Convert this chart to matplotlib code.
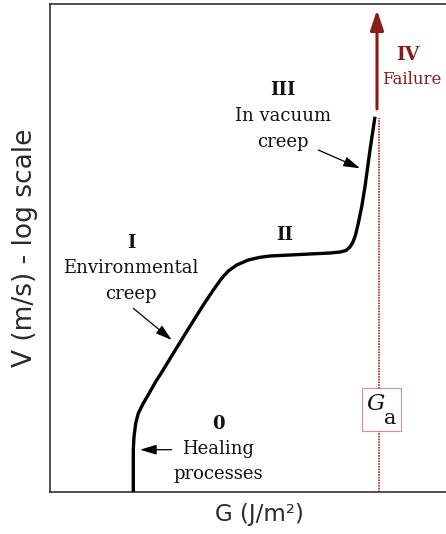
import matplotlib
matplotlib.use("Agg")
import matplotlib.pyplot as plt
from matplotlib.patches import Rectangle, FancyArrowPatch

# Crack growth curve: energy release rate G vs crack velocity V (log scale, arbitrary units)
G_curve = [83.3, 83.3, 84.0, 85.7, 88.3, 93.3, 100.0, 106.7, 111.0, 123.3, 136.7,
           153.3, 163.3, 171.7, 178.3, 186.7, 198.3, 210.0, 220.0, 250.0, 280.0,
           290.0, 296.0, 300.0, 303.0, 305.5, 308.3, 311.7, 315.0, 320.0, 325.0]
logV_curve = [0.0, 42.0, 55.3, 68.7, 78.7, 88.7, 100.3, 112.0, 118.5, 138.7, 160.5,
              187.0, 202.0, 213.7, 221.0, 227.0, 232.0, 234.7, 236.0, 237.5, 239.0,
              240.0, 241.5, 245.0, 250.0, 257.0, 268.7, 285.3, 305.3, 342.0, 375.3]

# Threshold G_a and the failure arrow
G_a = 328.5
logV_ga_top = 374.0
failure_x = 327.0
failure_start, failure_end = 383.0, 482.0

region_titles = ["0", "I", "II", "III", "IV"]
region_names = [["Healing", "processes"], ["Environmental", "creep"], [],
                ["In vacuum", "creep"], ["Failure"]]

W, H = 446, 534
fig = plt.figure(figsize=(W / 100, H / 100), dpi=100)
left_px, right_px, top_px, bottom_px = 50, 460, 4, 492
ax = fig.add_axes([left_px / W, 1 - bottom_px / H,
                   (right_px - left_px) / W, (bottom_px - top_px) / H])
ax.set_xlim(0, right_px - left_px)
ax.set_ylim(0, bottom_px - top_px)
ax.set_xticks([])
ax.set_yticks([])
for side in ("left", "bottom", "top"):
    ax.spines[side].set_color("#333333")
    ax.spines[side].set_linewidth(1.2)
ax.spines["right"].set_visible(False)

serif = "DejaVu Serif"
dark_red = "#8b1a1a"
line_red = "#c0392b"
ink = "#111111"
fs = 13

# main curve
ax.plot(G_curve, logV_curve, color="black", lw=2.4, solid_joinstyle="round",
        solid_capstyle="butt", zorder=3)

# G_a dotted line
ax.plot([G_a, G_a], [0, logV_ga_top], color=line_red, lw=1.4,
        linestyle=(0, (0.8, 0.6)), zorder=2)

# failure arrow
ax.add_patch(FancyArrowPatch((failure_x, failure_start), (failure_x, failure_end),
                             arrowstyle="-|>,head_length=12,head_width=4",
                             color=dark_red, lw=2.2, mutation_scale=1,
                             shrinkA=0, shrinkB=0, zorder=4))

# G_a label box
ax.add_patch(Rectangle((312, 61), 39, 43, facecolor="white", edgecolor=line_red,
                       lw=0.8, linestyle=(0, (1, 0.8)), zorder=4))
ax.text(326, 88, "G", fontsize=16.5, family=serif, style="italic",
        ha="center", va="center", color=ink, zorder=5)
ax.text(340, 74, "a", fontsize=15, family=serif,
        ha="center", va="center", color=ink, zorder=5)

def label(x, y, title, lines, color=ink, step=25.5, size=fs, title_size=fs, dx=0.0):
    ax.text(x, y, title, fontsize=title_size, family=serif, weight="bold",
            ha="center", va="center", color=color)
    for i, line in enumerate(lines):
        ax.text(x + dx, y - step * (i + 1), line, fontsize=size, family=serif,
                ha="center", va="center", color=color)

label(168.3, 67.8, region_titles[0], region_names[0], step=25)
label(81.0, 249.4, region_titles[1], region_names[1], step=25.8)
label(235.0, 257.0, region_titles[2], region_names[2])
label(232.7, 401.7, region_titles[3], region_names[3], step=26)
label(358.0, 437.5, region_titles[4], region_names[4], color=dark_red,
      step=24.5, size=12, title_size=13.5, dx=3.7)

def pointer(start, end):
    ax.add_patch(FancyArrowPatch(start, end, arrowstyle="-|>,head_length=10,head_width=3",
                                 color="black", lw=0.9, mutation_scale=1,
                                 shrinkA=0, shrinkB=0, zorder=4))

pointer((268.3, 342.0), (310.0, 323.7))
pointer((83.3, 183.7), (121.7, 152.0))
pointer((121.7, 42.3), (90.0, 42.3))

sans = "DejaVu Sans"
fig.text(25 / W, 1 - 248 / H, "V (m/s) - log scale", rotation=90, fontsize=19,
         family=sans, ha="center", va="center", color="#2a2a2a")
fig.text(259 / W, 1 - 515 / H, "G (J/m²)", fontsize=16.5, family=sans,
         ha="center", va="center", color="#2a2a2a")

fig.savefig("out.png", dpi=100, facecolor="white")
